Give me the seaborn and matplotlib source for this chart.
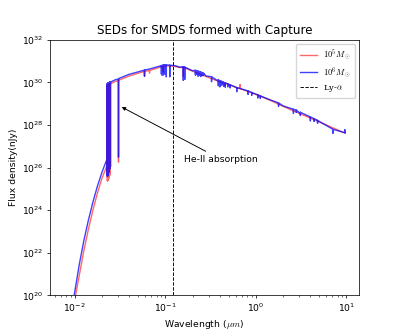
import numpy as np
import pandas as pd
import matplotlib
matplotlib.use("Agg")
import matplotlib.pyplot as plt
from matplotlib.font_manager import FontProperties
import seaborn as sns

# ---------------- data ----------------
# continuum points: wavelength [micron], log10 flux density [nJy]
wl_blue = [0.00759, 0.00891, 0.00984, 0.01122, 0.01259, 0.01413, 0.01585, 0.01778,
           0.01995, 0.02239, 0.02275, 0.02278, 0.0251, 0.0282, 0.0312, 0.0398, 0.0501,
           0.0670, 0.0794, 0.0933, 0.1000, 0.1259, 0.1445, 0.1995, 0.2818, 0.3715,
           0.4571, 0.6310, 0.8511, 1.4454, 1.9953, 3.0903, 5.0119, 9.66]
lf_blue = [16.41, 18.75, 20.00, 21.46, 22.57, 23.53, 24.38, 25.13,
           25.78, 26.35, 26.42, 29.93, 30.03, 30.13, 30.20, 30.38, 30.50,
           30.63, 30.72, 30.80, 30.82, 30.79, 30.72, 30.55, 30.30, 30.10,
           29.96, 29.75, 29.57, 29.18, 28.90, 28.55, 28.17, 27.64]

wl_red = [0.00759, 0.00891, 0.01020, 0.01122, 0.01259, 0.01413, 0.01585, 0.01778,
          0.01995, 0.02239, 0.02275, 0.02278, 0.0251, 0.0282, 0.0312, 0.0398, 0.0501,
          0.0670, 0.0794, 0.0933, 0.1000, 0.1259, 0.1445, 0.1995, 0.2818, 0.3715,
          0.4571, 0.6310, 0.8511, 1.4454, 1.9953, 3.0903, 5.0119, 9.66]
lf_red = [15.90, 18.20, 20.00, 20.95, 22.10, 23.10, 24.00, 24.80,
          25.50, 26.04, 26.10, 29.86, 29.95, 30.05, 30.12, 30.30, 30.43,
          30.56, 30.66, 30.75, 30.78, 30.76, 30.70, 30.53, 30.28, 30.08,
          29.94, 29.73, 29.55, 29.16, 28.88, 28.53, 28.15, 27.62]

# absorption / emission features: wavelength [micron], log10 flux at top, log10 flux at tip
line_wl_blue = [0.0229, 0.0230, 0.0231, 0.0232, 0.0233, 0.0234, 0.0236, 0.0237, 0.0239,
                0.0241, 0.0243, 0.0245, 0.0248, 0.0304, 0.0589, 0.0905, 0.0920, 0.0935,
                0.0950, 0.0970, 0.0985, 0.1026, 0.1120, 0.1580, 0.1640, 0.2150, 0.2220,
                0.2300, 0.2380, 0.2460, 0.2550, 0.2650, 0.3240, 0.3850, 0.4000, 0.4200,
                0.4400, 0.4600, 0.4900, 0.5200, 0.6150, 0.8200, 0.9000, 1.0500, 1.1200,
                1.7800, 2.6000, 2.8000, 3.1000, 4.0000, 4.4000, 4.8000, 7.1000, 9.6000]
line_top_blue = [29.94, 29.95, 29.95, 29.96, 29.96, 29.97, 29.97, 29.98, 29.99,
                 30.00, 30.01, 30.02, 30.03, 30.16, 30.58, 30.79, 30.80, 30.80,
                 30.81, 30.81, 30.82, 30.82, 30.81, 30.73, 30.72, 30.57, 30.55,
                 30.53, 30.51, 30.49, 30.46, 30.43, 30.27, 30.12, 30.08, 30.05,
                 30.01, 29.98, 29.93, 29.89, 29.76, 29.60, 29.53, 29.42, 29.37,
                 29.04, 28.74, 28.70, 28.60, 28.38, 28.30, 28.22, 27.80, 27.64]
line_tip_blue = [25.60, 25.60, 25.62, 25.65, 25.68, 25.70, 25.75, 25.80, 25.85,
                 25.90, 25.95, 26.00, 26.05, 26.50, 30.30, 30.40, 30.35, 30.42,
                 30.36, 30.45, 30.40, 30.27, 30.27, 30.10, 30.15, 30.35, 30.38,
                 30.30, 30.33, 30.28, 30.32, 30.35, 30.04, 29.85, 29.80, 29.88,
                 29.82, 29.78, 29.80, 29.75, 29.57, 29.45, 29.40, 29.28, 29.25,
                 28.88, 28.55, 28.60, 28.45, 28.20, 28.18, 28.08, 27.62, 27.78]

line_wl_red = [0.0229, 0.0231, 0.0233, 0.0235, 0.0237, 0.0239, 0.0241, 0.0243, 0.0246,
               0.0304, 0.0589, 0.0670, 0.0950, 0.1580, 0.4600, 0.6700]
line_top_red = [29.87, 29.88, 29.89, 29.90, 29.91, 29.92, 29.93, 29.94, 29.95,
                30.09, 30.52, 30.56, 30.76, 30.71, 29.96, 29.71]
line_tip_red = [25.38, 25.40, 25.42, 25.45, 25.50, 25.55, 25.60, 25.65, 25.75,
                26.27, 30.30, 30.45, 30.50, 30.30, 29.85, 29.90]

lya_wl = 0.1216
labels = [r'$10^5M_\odot$', r'$10^6M_\odot$', r'Ly-$\alpha$']
colors = ['red', 'blue']


def build(wl, lf, lwl, ltop, ltip, name):
    rows = [(w, 0, f) for w, f in zip(wl, lf)]
    for w, t, b in zip(lwl, ltop, ltip):
        rows += [(w, 1, t), (w, 2, b), (w, 3, t)]
    rows.sort(key=lambda r: (r[0], r[1]))
    df = pd.DataFrame(rows, columns=['wl', 'k', 'lf'])
    df['flux'] = 10.0 ** df['lf']
    df['model'] = name
    return df


df_red = build(wl_red, lf_red, line_wl_red, line_top_red, line_tip_red, labels[0])
df_blue = build(wl_blue, lf_blue, line_wl_blue, line_top_blue, line_tip_blue, labels[1])

# ---------------- figure ----------------
s = 0.665
plt.rcParams.update({
    'font.size': 10 * s,
    'axes.linewidth': 0.8 * s,
    'axes.labelpad': 4 * s,
    'axes.titlepad': 6 * s,
    'xtick.major.pad': 3.5 * s, 'ytick.major.pad': 3.5 * s,
    'xtick.major.size': 3.5 * s, 'ytick.major.size': 3.5 * s,
    'xtick.minor.size': 2 * s, 'ytick.minor.size': 2 * s,
    'xtick.major.width': 0.8 * s, 'ytick.major.width': 0.8 * s,
    'xtick.minor.width': 0.6 * s, 'ytick.minor.width': 0.6 * s,
})

fig, ax = plt.subplots(figsize=(3.99, 3.32), dpi=100)
fig.subplots_adjust(left=0.125, right=0.9, bottom=0.11, top=0.88)

sns.lineplot(data=df_red, x='wl', y='flux', ax=ax, color=colors[0], alpha=0.6,
             lw=1.5 * s, sort=False, estimator=None, label=labels[0])
sns.lineplot(data=df_blue, x='wl', y='flux', ax=ax, color=colors[1], alpha=0.75,
             lw=1.5 * s, sort=False, estimator=None, label=labels[1])
ax.axvline(lya_wl, color='black', ls='--', lw=1.0 * s, label=labels[2])

ax.set_xscale('log')
ax.set_yscale('log')
ax.set_ylim(1e20, 1e32)

ax.annotate('He-II absorption', xy=(0.033, 7e28), xytext=(0.16, 2.5e26),
            ha='left', va='center', fontsize=10 * s,
            arrowprops=dict(arrowstyle='-|>', color='black', lw=1.0 * s,
                            mutation_scale=8 * s, shrinkA=1, shrinkB=0))

ax.set_title('SEDs for SMDS formed with Capture', fontsize=8.6)
ax.set_xlabel(r'Wavelength ($\mu m$)', math_fontfamily='cm')
ax.set_ylabel('Flux density(nJy)')

leg_font = FontProperties(family='DejaVu Serif', size=6.0, math_fontfamily='cm')
ax.legend(loc='upper right', prop=leg_font, labelspacing=0.35, handlelength=2.0,
          borderpad=0.5)

fig.savefig('out.png', dpi=100)
